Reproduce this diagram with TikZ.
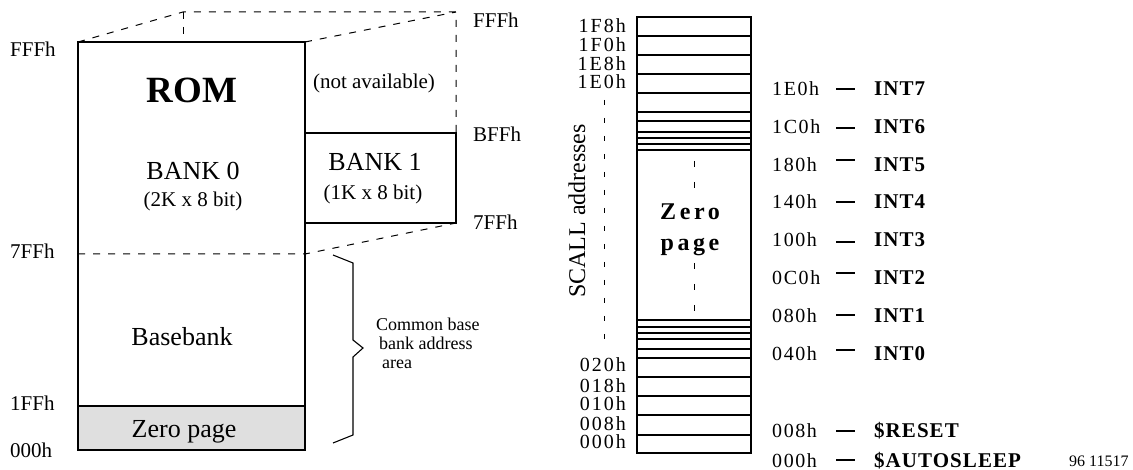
\documentclass[tikz,border=0pt]{standalone}
\usepackage{fontspec}
\setmainfont{Liberation Serif}
\usetikzlibrary{positioning}

\begin{document}
\begin{tikzpicture}[x=1pt, y=-1pt,
	mem/.style={line width=1.1pt},
	gap/.style={line width=1pt, dash pattern=on 7pt off 8pt},
	dots/.style={line width=1pt, dash pattern=on 5pt off 13pt},
	lbl/.style={inner sep=0pt, font=\fontsize{21}{21}\selectfont},
	txt/.style={inner sep=0pt, font=\fontsize{26}{26}\selectfont},
	small/.style={inner sep=0pt, font=\fontsize{21}{21}\selectfont},
	note/.style={inner sep=0pt, font=\fontsize{18}{18}\selectfont},
	slt/.style={inner sep=0pt, font=\fontsize{20}{20}\selectfont\addfontfeature{LetterSpace=10}},
	adr/.style={inner sep=0pt, font=\fontsize{20}{20}\selectfont\addfontfeature{LetterSpace=8}},
	vec/.style={inner sep=0pt, font=\fontsize{21}{21}\selectfont\bfseries\addfontfeature{LetterSpace=5}},
	zp/.style={inner sep=0pt, font=\fontsize{24}{24}\selectfont\bfseries\addfontfeature{LetterSpace=15}}]
	\useasboundingbox (0,0) rectangle (1133,470);
	\filldraw[mem, fill=gray!25] (78,406) rectangle (305,450);
	\draw[mem] (78,42) rectangle (305,450);
	\draw[mem] (305,133) rectangle (456,223);
	\draw[gap] (78,254) -- (305,254) -- (456,223);
	\draw[gap] (78,42) -- (183,12) -- (456,12) -- (456,133);
	\draw[gap] (183,12) -- (183,42);
	\draw[gap] (305,42) -- (456,12);
	\draw[mem] (333,255) -- (353,263) -- (353,340) -- (363,348) -- (353,357) -- (353,435) -- (333,443);
	\node[lbl, anchor=base west] (fffleft) at (10,57) {FFFh};
	\node[lbl, anchor=base west] (sevenffleft) at (10,259) {7FFh};
	\node[lbl, anchor=base west] (oneffleft) at (10,410) {1FFh};
	\node[lbl, anchor=base west] (zeroleft) at (10,457) {000h};
	\node[lbl, anchor=base west] (fffright) at (473,28) {FFFh};
	\node[lbl, anchor=base west] (bffright) at (473,142) {BFFh};
	\node[lbl, anchor=base west] (sevenffright) at (473,230) {7FFh};
	\node[anchor=base, inner sep=0pt, font=\fontsize{37}{37}\selectfont\bfseries] (rom) at (192,103) {ROM};
	\node[txt, anchor=base] (bankzero) at (193,180) {BANK 0};
	\node[small, anchor=base] (sizezero) at (193,207) {(2K x 8 bit)};
	\node[small, anchor=base] (notavail) at (374,89) {(not available)};
	\node[txt, anchor=base] (bankone) at (375,171) {BANK 1};
	\node[small, anchor=base] (sizeone) at (373,200) {(1K x 8 bit)};
	\node[txt, anchor=base] (basebank) at (182,345) {Basebank};
	\node[txt, anchor=base] (zeropage) at (184,437) {Zero page};
	\node[note, anchor=base west] (common) at (376,331) {Common base};
	\node[note, anchor=base west] (bankaddr) at (379,350) {bank address};
	\node[note, anchor=base west] (area) at (382,369) {area};
	\draw[mem] (637,17) rectangle (751,453);
	\foreach \y in {36,55,74,93,112,121,132,138,144,150,320,327,333,339,349,358,377,396,415,435}
		\draw[mem] (637,\y) -- (751,\y);
	\foreach \t/\y in {1F8h/33,1F0h/52,1E8h/71,1E0h/89,020h/372,018h/392,010h/410,008h/430,000h/448}
		\node[slt, anchor=base east] (slot\t) at (626,\y) {\t};
	\node[rotate=90, anchor=base, inner sep=0pt, font=\fontsize{24}{24}\selectfont] (scall) at (585,211) {SCALL addresses};
	\draw[dots] (604,100) -- (604,343);
	\node[zp, anchor=base] (zerotxt) at (690,220) {Zero};
	\node[zp, anchor=base] (pagetxt) at (690,251) {page};
	\draw[dots, dash pattern=on 6pt off 15pt] (694,161) -- (694,193);
	\draw[dots, dash pattern=on 6pt off 15pt] (694,263) -- (694,312);
	\foreach \a/\b/\y/\d [count=\i] in {1E0h/INT7/96/7, 1C0h/INT6/134/6, 180h/INT5/172/12, 140h/INT4/209/7, 100h/INT3/247/5, 0C0h/INT2/285/12, 080h/INT1/323/8, 040h/INT0/361/11, 008h/\$RESET/437/6, 000h/\$AUTOSLEEP/467/7} {
		\node[adr, anchor=base west] (addr\i) at (772,\y) {\a};
		\node[vec, anchor=base west] (vec\i) at (874,\y) {\b};
		\draw[mem] (836,\y-\d) -- (855,\y-\d);
	}
	\node[anchor=base west, inner sep=0pt, font=\fontsize{16}{16}\selectfont] (docnum) at (1069,466) {96 11517};
\end{tikzpicture}
\end{document}
